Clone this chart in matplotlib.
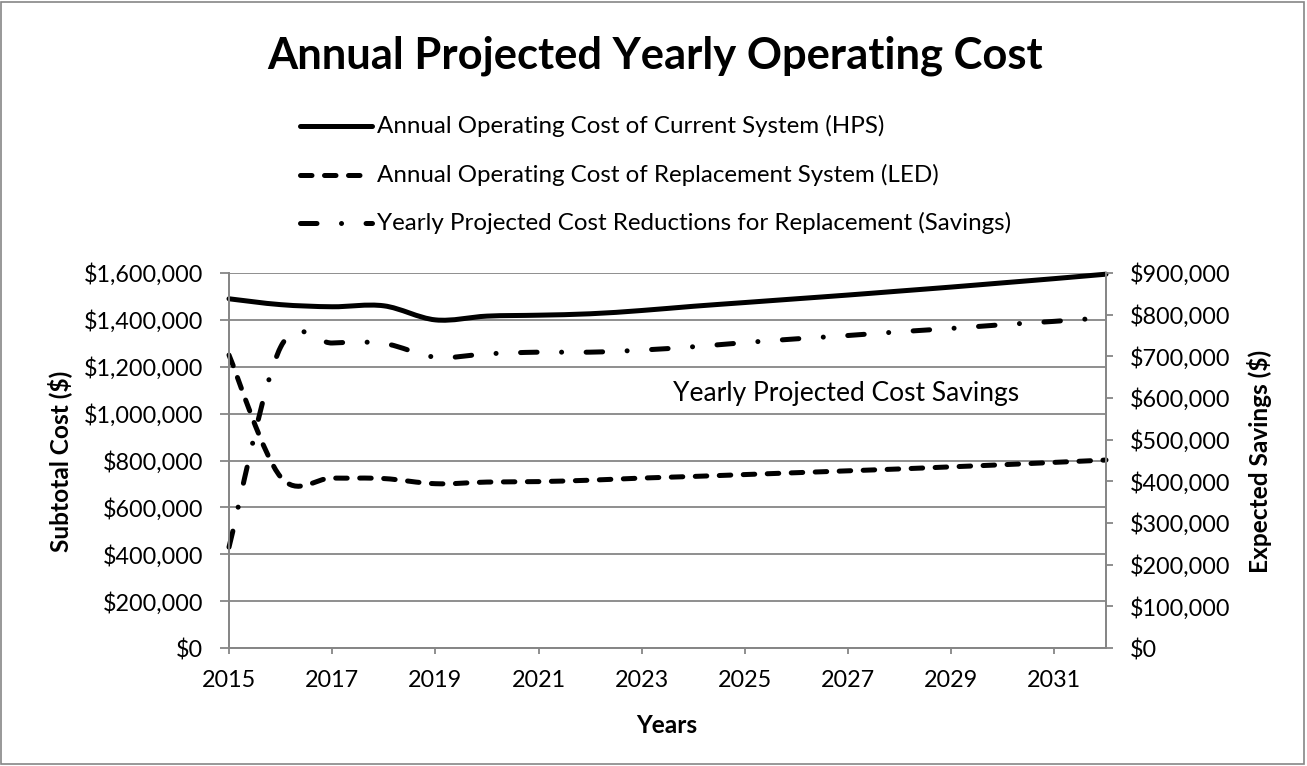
import matplotlib.pyplot as plt
import numpy as np
from matplotlib.path import Path
from matplotlib.patches import PathPatch, Rectangle
from matplotlib.lines import Line2D
from matplotlib.ticker import FuncFormatter, MultipleLocator

plt.rcParams['font.family'] = ['Lato', 'DejaVu Sans']

# Data (yearly values, $)
years = list(range(2015, 2033))
hps_cost = [1490000, 1465000, 1456000, 1460000, 1400000, 1416000, 1420000, 1426000, 1440000,
            1458000, 1474000, 1490000, 1506000, 1523000, 1540000, 1558000, 1576000, 1595000]
led_cost = [1250000, 730000, 725000, 723000, 701000, 708000, 710000, 716000, 725000,
            732000, 740000, 748000, 756000, 764000, 773000, 782000, 792000, 802000]
savings = [242000, 722000, 732000, 731000, 698000, 706000, 710000, 710000, 715000,
           723000, 733000, 742000, 750000, 759000, 767000, 776000, 784000, 793000]

labels = ["Annual Operating Cost of Current System (HPS)",
          "Annual Operating Cost of Replacement System (LED)",
          "Yearly Projected Cost Reductions for Replacement (Savings)"]

W, H = 1307, 766
GRID = '#868686'
LW = 3.6
DASHED = (0, (2.3, 2.5))
DASHDOT = (0, (3.3, 4.9, 0.01, 4.9))
TICK_FS = 16.8
LABEL_FS = 17.6


def smooth_path(xs, ys):
    # Excel-style smoothed line: Catmull-Rom converted to cubic bezier segments
    pts = np.column_stack([xs, ys]).astype(float)
    n = len(pts)
    verts = [tuple(pts[0])]
    codes = [Path.MOVETO]
    for i in range(n - 1):
        p_prev = pts[i - 1] if i > 0 else pts[i]
        p_next = pts[i + 2] if i + 2 < n else pts[i + 1]
        c1 = pts[i] + (pts[i + 1] - p_prev) / 6
        c2 = pts[i + 1] - (p_next - pts[i]) / 6
        verts += [tuple(c1), tuple(c2), tuple(pts[i + 1])]
        codes += [Path.CURVE4] * 3
    return Path(verts, codes)


def fx(px):
    return px / W


def fy(py):
    return 1 - py / H


fig = plt.figure(figsize=(W / 100, H / 100), dpi=100)
ax = fig.add_axes([fx(229), fy(648), (1106 - 229) / W, (648 - 273) / H])
ax2 = ax.twinx()

for a, ys, ls in [(ax, hps_cost, '-'), (ax, led_cost, DASHED), (ax2, savings, DASHDOT)]:
    patch = PathPatch(smooth_path(years, ys), fill=False, edgecolor='black', lw=LW,
                      linestyle=ls, capstyle='round', joinstyle='round', clip_on=False)
    a.add_patch(patch)

ax.set_xlim(2015, 2032)
ax.set_ylim(0, 1600000)
ax2.set_ylim(0, 900000)
ax.set_xticks(range(2015, 2032, 2))
ax.yaxis.set_major_locator(MultipleLocator(200000))
ax2.yaxis.set_major_locator(MultipleLocator(100000))
money = FuncFormatter(lambda v, p: f"${v:,.0f}")
ax.yaxis.set_major_formatter(money)
ax2.yaxis.set_major_formatter(money)

ax.grid(axis='y', color=GRID, lw=1.3)
ax.set_axisbelow(True)
for a in (ax, ax2):
    for s in a.spines.values():
        s.set_color(GRID)
        s.set_linewidth(1.3)
    a.spines['top'].set_visible(False)
ax.tick_params(axis='y', length=6.5, width=1.3, color=GRID, pad=12, labelsize=TICK_FS)
ax.tick_params(axis='x', length=4.5, width=1.3, color=GRID, pad=11, labelsize=TICK_FS)
ax2.tick_params(axis='y', length=5, width=1.3, color=GRID, pad=12, labelsize=TICK_FS)

# axis titles
fig.text(fx(667), fy(733), "Years", ha='center', va='baseline', fontsize=LABEL_FS, fontweight='bold')
fig.text(fx(60), fy(461), "Subtotal Cost ($)", ha='center', va='center', rotation=90,
         fontsize=LABEL_FS, fontweight='bold')
fig.text(fx(1259), fy(461), "Expected Savings ($)", ha='center', va='center', rotation=90,
         fontsize=LABEL_FS, fontweight='bold')

ax.text(0.7035, 0.68, "Yearly Projected Cost Savings", transform=ax.transAxes,
        ha='center', va='center', fontsize=19)

fig.text(fx(655), fy(68), "Annual Projected Yearly Operating Cost", ha='center', va='baseline',
         fontsize=31.3, fontweight='bold')

# legend, drawn row by row
for row, (ls, lab) in enumerate(zip(['-', DASHED, DASHDOT], labels)):
    yc = 126 + row * 48.5
    fig.add_artist(Line2D([fx(300), fx(372)], [fy(yc), fy(yc)], transform=fig.transFigure,
                          color='black', lw=LW, ls=ls, solid_capstyle='round', dash_capstyle='round'))
    fig.text(fx(377), fy(yc + 7), lab, ha='left', va='baseline', fontsize=17.4)

fig.add_artist(Rectangle((0.001, 0.002), 0.997, 0.996, transform=fig.transFigure,
                         fill=False, edgecolor=GRID, lw=1.2))

fig.savefig("out.png", dpi=100)
